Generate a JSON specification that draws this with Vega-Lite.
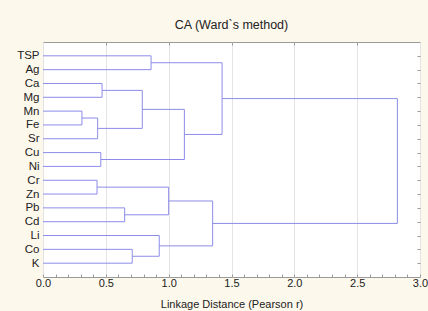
{
  "$schema": "https://vega.github.io/schema/vega-lite/v6.json",
  "autosize": {"type": "none"},
  "padding": {"left": 43, "top": 42, "right": 8, "bottom": 34},
  "width": 377,
  "height": 235,
  "background": "#FDF8EC",
  "title": {"text": "CA (Ward`s method)", "font": "Liberation Sans", "fontSize": 12.5, "fontWeight": "normal", "color": "#222222", "offset": 10},
  "config": {
    "view": {"stroke": "#9a9a9a", "fill": "#ffffff"},
    "axis": {"labelFont": "Liberation Sans", "titleFont": "Liberation Sans", "labelColor": "#222222", "titleColor": "#222222", "labelFontSize": 11, "titleFontSize": 11, "titleFontWeight": "normal", "domain": false}
  },
  "data": {"values": [
    {"x": 0, "x2": 0.86, "y": 1, "y2": 1}, {"x": 0, "x2": 0.86, "y": 2, "y2": 2}, {"x": 0.86, "x2": 0.86, "y": 1, "y2": 2},
    {"x": 0, "x2": 0.47, "y": 3, "y2": 3}, {"x": 0, "x2": 0.47, "y": 4, "y2": 4}, {"x": 0.47, "x2": 0.47, "y": 3, "y2": 4},
    {"x": 0, "x2": 0.31, "y": 5, "y2": 5}, {"x": 0, "x2": 0.31, "y": 6, "y2": 6}, {"x": 0.31, "x2": 0.31, "y": 5, "y2": 6},
    {"x": 0.31, "x2": 0.435, "y": 5.5, "y2": 5.5}, {"x": 0, "x2": 0.435, "y": 7, "y2": 7}, {"x": 0.435, "x2": 0.435, "y": 5.5, "y2": 7},
    {"x": 0.47, "x2": 0.79, "y": 3.5, "y2": 3.5}, {"x": 0.435, "x2": 0.79, "y": 6.25, "y2": 6.25}, {"x": 0.79, "x2": 0.79, "y": 3.5, "y2": 6.25},
    {"x": 0, "x2": 0.46, "y": 8, "y2": 8}, {"x": 0, "x2": 0.46, "y": 9, "y2": 9}, {"x": 0.46, "x2": 0.46, "y": 8, "y2": 9},
    {"x": 0.79, "x2": 1.125, "y": 4.875, "y2": 4.875}, {"x": 0.46, "x2": 1.125, "y": 8.5, "y2": 8.5}, {"x": 1.125, "x2": 1.125, "y": 4.875, "y2": 8.5},
    {"x": 0.86, "x2": 1.425, "y": 1.5, "y2": 1.5}, {"x": 1.125, "x2": 1.425, "y": 6.6875, "y2": 6.6875}, {"x": 1.425, "x2": 1.425, "y": 1.5, "y2": 6.6875},
    {"x": 0, "x2": 0.43, "y": 10, "y2": 10}, {"x": 0, "x2": 0.43, "y": 11, "y2": 11}, {"x": 0.43, "x2": 0.43, "y": 10, "y2": 11},
    {"x": 0, "x2": 0.65, "y": 12, "y2": 12}, {"x": 0, "x2": 0.65, "y": 13, "y2": 13}, {"x": 0.65, "x2": 0.65, "y": 12, "y2": 13},
    {"x": 0.43, "x2": 1.0, "y": 10.5, "y2": 10.5}, {"x": 0.65, "x2": 1.0, "y": 12.5, "y2": 12.5}, {"x": 1.0, "x2": 1.0, "y": 10.5, "y2": 12.5},
    {"x": 0, "x2": 0.71, "y": 15, "y2": 15}, {"x": 0, "x2": 0.71, "y": 16, "y2": 16}, {"x": 0.71, "x2": 0.71, "y": 15, "y2": 16},
    {"x": 0, "x2": 0.925, "y": 14, "y2": 14}, {"x": 0.71, "x2": 0.925, "y": 15.5, "y2": 15.5}, {"x": 0.925, "x2": 0.925, "y": 14, "y2": 15.5},
    {"x": 1.0, "x2": 1.35, "y": 11.5, "y2": 11.5}, {"x": 0.925, "x2": 1.35, "y": 14.75, "y2": 14.75}, {"x": 1.35, "x2": 1.35, "y": 11.5, "y2": 14.75},
    {"x": 1.425, "x2": 2.82, "y": 4.09375, "y2": 4.09375}, {"x": 1.35, "x2": 2.82, "y": 13.125, "y2": 13.125}, {"x": 2.82, "x2": 2.82, "y": 4.09375, "y2": 13.125}
  ]},
  "resolve": {"axis": {"x": "independent", "y": "independent"}},
  "layer": [
    {
      "mark": {"type": "rule", "color": "#8c8ce8", "strokeWidth": 1},
      "encoding": {
        "x": {"field": "x", "type": "quantitative", "scale": {"domain": [0, 3], "nice": false, "zero": false},
          "axis": {"orient": "bottom", "values": [0,0.1,0.2,0.3,0.4,0.5,0.6,0.7,0.8,0.9,1,1.1,1.2,1.3,1.4,1.5,1.6,1.7,1.8,1.9,2,2.1,2.2,2.3,2.4,2.5,2.6,2.7,2.8,2.9,3],
            "labelExpr": "abs(datum.value*2 - round(datum.value*2)) < 0.001 ? format(datum.value, '.1f') : ''",
            "labelOverlap": false, "labelFlush": false, "labelPadding": 3,
            "grid": true, "gridColor": "#e4e4e4",
            "gridOpacity": {"condition": {"test": "abs(datum.value*2 - round(datum.value*2)) < 0.001", "value": 1}, "value": 0},
            "ticks": true, "tickSize": -3, "tickColor": "#9a9a9a",
            "title": "Linkage Distance (Pearson r)", "titlePadding": 10}},
        "x2": {"field": "x2"},
        "y": {"field": "y", "type": "quantitative", "scale": {"domain": [0, 17], "nice": false, "zero": false, "reverse": true},
          "axis": {"orient": "left", "values": [1,2,3,4,5,6,7,8,9,10,11,12,13,14,15,16],
            "labelExpr": "['TSP','Ag','Ca','Mg','Mn','Fe','Sr','Cu','Ni','Cr','Zn','Pb','Cd','Li','Co','K'][datum.value - 1]",
            "labelOverlap": false, "labelPadding": 4, "labelFontSize": 11.5, "ticks": false, "grid": false, "title": null}},
        "y2": {"field": "y2"}
      }
    },
    {
      "mark": {"type": "rule", "opacity": 0},
      "encoding": {
        "x": {"field": "x", "type": "quantitative", "scale": {"domain": [0, 3], "nice": false, "zero": false},
          "axis": {"orient": "top", "values": [0.5,1,1.5,2,2.5], "labels": false, "ticks": true, "tickSize": -3, "tickColor": "#9a9a9a", "grid": false, "title": null}},
        "x2": {"field": "x2"},
        "y": {"field": "y", "type": "quantitative", "scale": {"domain": [0, 17], "nice": false, "zero": false, "reverse": true},
          "axis": {"orient": "right", "values": [1,2,3,4,5,6,7,8,9,10,11,12,13,14,15,16], "labels": false, "ticks": true, "tickSize": -3, "tickColor": "#9a9a9a", "grid": false, "title": null}},
        "y2": {"field": "y2"}
      }
    }
  ]
}
